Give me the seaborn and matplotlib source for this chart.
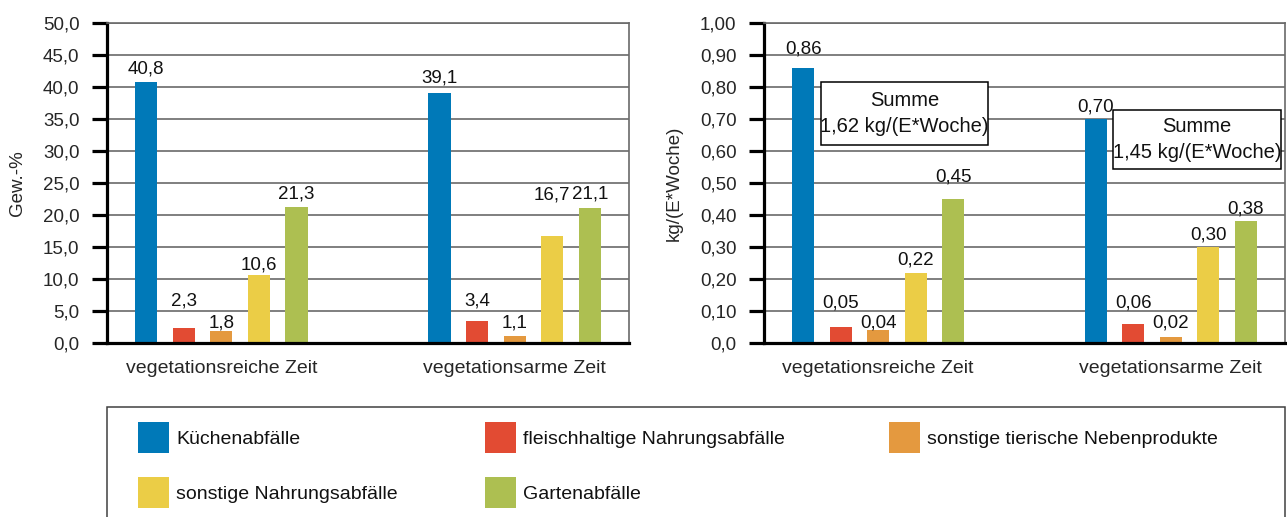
import numpy as np
import pandas as pd
import matplotlib
matplotlib.use("Agg")
import matplotlib.pyplot as plt
import matplotlib.patches as mpatches
import seaborn as sns

# ---------------- data ----------------
zeiten = ["vegetationsreiche Zeit", "vegetationsarme Zeit"]
fraktionen = ["Küchenabfälle", "fleischhaltige Nahrungsabfälle",
              "sonstige tierische Nebenprodukte", "sonstige Nahrungsabfälle",
              "Gartenabfälle"]
farben = ["#0079b8", "#e24b33", "#e4993f", "#ebcd46", "#adbf51"]

gew_kuechen = [40.8, 39.1]
gew_fleisch = [2.3, 3.4]
gew_tierisch = [1.8, 1.1]
gew_sonstige = [10.6, 16.7]
gew_garten = [21.3, 21.1]

kg_kuechen = [0.86, 0.70]
kg_fleisch = [0.05, 0.06]
kg_tierisch = [0.04, 0.02]
kg_sonstige = [0.22, 0.30]
kg_garten = [0.45, 0.38]

summen = ["1,62 kg/(E*Woche)", "1,45 kg/(E*Woche)"]

left_yticks = [0, 5, 10, 15, 20, 25, 30, 35, 40, 45, 50]
left_yticklabels = ["0,0", "5,0", "10,0", "15,0", "20,0", "25,0", "30,0",
                    "35,0", "40,0", "45,0", "50,0"]
right_yticks = [0, 0.1, 0.2, 0.3, 0.4, 0.5, 0.6, 0.7, 0.8, 0.9, 1.0]
right_yticklabels = ["0,0", "0,10", "0,20", "0,30", "0,40", "0,50", "0,60",
                     "0,70", "0,80", "0,90", "1,00"]

# label offsets above bar tops (pixels), per fraction and period
left_pads = [[8, 10], [23, 16], [4, 8], [6, 37], [8, 9]]
right_pads = [[14, 8], [20, 16], [3, 9], [8, 7], [18, 8]]


def long_df(series):
    rows = []
    for name, vals in zip(fraktionen, series):
        for z, v in zip(zeiten, vals):
            rows.append({"Zeit": z, "Fraktion": name, "Wert": v})
    return pd.DataFrame(rows)


df_gew = long_df([gew_kuechen, gew_fleisch, gew_tierisch, gew_sonstige, gew_garten])
df_kg = long_df([kg_kuechen, kg_fleisch, kg_tierisch, kg_sonstige, kg_garten])

# ---------------- style ----------------
sns.set_theme(style="white")
plt.rcParams["font.family"] = ["Liberation Sans", "DejaVu Sans"]
plt.rcParams["text.color"] = "#111111"

W, H = 1287, 517
fig = plt.figure(figsize=(W / 100, H / 100), dpi=100)
ax1 = fig.add_axes([107 / W, 174 / H, 522 / W, 320 / H])
ax2 = fig.add_axes([764 / W, 174 / H, 521 / W, 320 / H])

palette = dict(zip(fraktionen, farben))


def draw(ax, df, ymax, yticks, yticklabels, ylabel, pads, fmt):
    sns.barplot(data=df, x="Zeit", y="Wert", hue="Fraktion", order=zeiten,
                hue_order=fraktionen, palette=palette, saturation=1,
                width=0.64, gap=0.41, legend=False, ax=ax, zorder=2,
                linewidth=0, edgecolor="none")
    ax.set_xlim(-0.39, 1.39)
    ax.set_ylim(0, ymax)
    ax.set_yticks(yticks)
    ax.set_yticklabels(yticklabels)
    ax.set_xlabel("")
    ax.set_ylabel(ylabel, fontsize=13.5)
    ax.yaxis.set_label_coords(-0.156, 0.5)
    ax.set_axisbelow(True)
    ax.yaxis.grid(True, color="#6a6a6a", lw=1.2)
    ax.xaxis.grid(False)
    for s in ["left", "bottom"]:
        ax.spines[s].set_color("black")
        ax.spines[s].set_linewidth(2.3)
    for s in ["top", "right"]:
        ax.spines[s].set_color("#6a6a6a")
        ax.spines[s].set_linewidth(1.2)
    ax.tick_params(axis="y", left=True, length=10.8, width=2.3, color="black",
                   labelsize=13.5, pad=9)
    ax.tick_params(axis="x", length=0, labelsize=14, pad=12)
    for hi, cont in enumerate(ax.containers):
        for gi, bar in enumerate(cont):
            h = bar.get_height()
            ax.annotate(fmt(h), (bar.get_x() + bar.get_width() / 2, h),
                        xytext=(0, pads[hi][gi] * 0.72), textcoords="offset points",
                        ha="center", va="baseline", fontsize=13.5, zorder=5)


draw(ax1, df_gew, 50, left_yticks, left_yticklabels, "Gew.-%", left_pads,
     lambda v: f"{v:.1f}".replace(".", ","))
draw(ax2, df_kg, 1.0, right_yticks, right_yticklabels, "kg/(E*Woche)", right_pads,
     lambda v: f"{v:.2f}".replace(".", ","))

# Summe boxes
boxes = [(0.109, 0.619, 0.321, 0.197, 0.759, 0.678),
         (0.670, 0.544, 0.322, 0.184, 0.678, 0.594)]
for (x0, y0, w, h, t1, t2), s in zip(boxes, summen):
    ax2.add_patch(mpatches.Rectangle((x0, y0), w, h, transform=ax2.transAxes,
                                     facecolor="white", edgecolor="black",
                                     lw=1.1, zorder=4))
    ax2.text(x0 + w / 2, t1, "Summe", transform=ax2.transAxes, ha="center",
             va="center", fontsize=14.5, zorder=5)
    ax2.text(x0 + w / 2, t2, s, transform=ax2.transAxes, ha="center",
             va="center", fontsize=14.5, zorder=5)

# Legend frame
fig.add_artist(mpatches.Rectangle((107 / W, -0.1), 1178 / W, 0.1 + 1 - 407 / H,
                                  transform=fig.transFigure, fill=False,
                                  edgecolor="#404040", lw=1.1))

handles = {n: mpatches.Patch(facecolor=c, edgecolor="none", label=n)
           for n, c in zip(fraktionen, farben)}
columns = [[fraktionen[0], fraktionen[3]],
           [fraktionen[1], fraktionen[4]],
           [fraktionen[2]]]
col_x = [138, 485, 889]
for names, cx in zip(columns, col_x):
    leg = fig.legend(handles=[handles[n] for n in names], loc="upper left",
                     bbox_to_anchor=(cx / W, 1 - 422 / H), ncol=1, frameon=False,
                     fontsize=14, handlelength=1.6, handleheight=2.08,
                     handletextpad=0.36, labelspacing=1.24, borderpad=0,
                     borderaxespad=0)

fig.savefig("out.png", dpi=100)
